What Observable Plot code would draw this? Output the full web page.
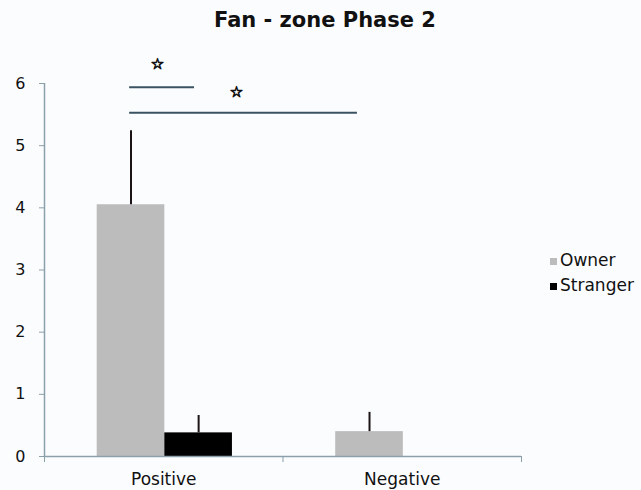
<!DOCTYPE html>
<html>
<head>
<meta charset="utf-8">
<script src="https://cdn.jsdelivr.net/npm/d3@7"></script>
<script src="https://cdn.jsdelivr.net/npm/@observablehq/plot@0.6"></script>
<style>
  html, body { margin: 0; padding: 0; background: #fbfcfe; }
  #wrap { position: relative; width: 641px; height: 490px; font-family: "DejaVu Sans", Verdana, sans-serif; color: #111; }
  #title { position: absolute; left: 0; top: 10px; width: 650px; text-align: center; font-weight: bold; font-size: 21px; line-height: 21px; }
  #legend { position: absolute; left: 550px; top: 250px; }
  .item { position: relative; height: 25px; font-size: 17px; line-height: 20px; white-space: nowrap; }
  .sw { display: inline-block; width: 7px; height: 7px; margin-right: 3px; vertical-align: 1px; }
  svg { position: absolute; left: 0; top: 0; }
</style>
</head>
<body>
<div id="wrap">
  <div id="chart"></div>
  <div id="title">Fan - zone Phase 2</div>
  <div id="legend"></div>
</div>
<script>
// ---- data ----
const categories = ["Positive", "Negative"];
const series = ["Owner", "Stranger"];
const ownerMeans = [4.05, 0.40];
const ownerErrors = [1.19, 0.31];
const strangerMeans = [0.38, 0];
const strangerErrors = [0.28, null];
const seriesColors = ["#bcbcbc", "#000000"];
const yTicks = [0, 1, 2, 3, 4, 5, 6];
// significance brackets (x in category units, y in data units)
const bracketStart = [0.357, 0.357];
const bracketEnd = [0.629, 1.312];
const bracketY = [5.94, 5.53];
const starX = [0.474, 0.805];
const starY = [6.31, 5.86];
const starText = ["☆", "☆"];

// ---- layout ----
const groupPad = 0.221;   // fraction of category band before first bar
const barW = 0.2835;      // bar width as fraction of category band
const axisColor = "#8aa0ab";

const rows = categories.flatMap((c, i) => series.map((s, j) => ({
  category: c, series: s, ci: i, si: j,
  mean: j === 0 ? ownerMeans[i] : strangerMeans[i],
  err: j === 0 ? ownerErrors[i] : strangerErrors[i]
})));
const brackets = bracketStart.map((x1, i) => ({x1, x2: bracketEnd[i], y: bracketY[i]}));
const stars = starX.map((x, i) => ({x, y: starY[i], t: starText[i]}));

const plot = Plot.plot({
  width: 641,
  height: 490,
  marginLeft: 44,
  marginRight: 120,
  marginTop: 83,
  marginBottom: 34,
  style: {background: "transparent", fontFamily: "DejaVu Sans, Verdana, sans-serif", color: "#111"},
  x: {domain: [0, categories.length], label: null},
  y: {domain: [0, 6], label: null},
  color: {domain: series, range: seriesColors},
  marks: [
    Plot.rect(rows, {
      x1: d => d.ci + groupPad + d.si * barW,
      x2: d => d.ci + groupPad + (d.si + 1) * barW,
      y1: 0, y2: "mean", fill: "series", inset: 0
    }),
    Plot.ruleX(rows.filter(d => d.err != null), {
      x: d => d.ci + groupPad + (d.si + 0.5) * barW,
      y1: "mean", y2: d => d.mean + d.err,
      stroke: "#1c1414", strokeWidth: 2
    }),
    Plot.ruleX([0], {y1: 0, y2: 6, stroke: axisColor, strokeWidth: 1.5}),
    Plot.ruleY([0], {x1: 0, x2: categories.length, stroke: axisColor, strokeWidth: 1.5}),
    Plot.axisY({ticks: yTicks, tickSize: 5, tickPadding: 14, fontSize: 16, tickFormat: d3.format("d"),
      stroke: axisColor, fill: "#111", label: null}),
    Plot.axisX({ticks: d3.range(categories.length + 1), tickSize: 6, tickFormat: () => "", stroke: axisColor, label: null}),
    Plot.axisX({ticks: categories.map((c, i) => i + 0.5), tickSize: 0, tickPadding: 16,
      tickFormat: v => categories[Math.floor(v)], fontSize: 17, fill: "#111", label: null}),
    Plot.ruleY(brackets, {x1: "x1", x2: "x2", y: "y", stroke: "#3a5360", strokeWidth: 2}),
    Plot.text(stars, {x: "x", y: "y", text: "t", fontSize: 15, fontWeight: "bold", fill: "#111",
      stroke: "#111", strokeWidth: 0.9})
  ]
});
document.getElementById("chart").appendChild(plot);

const legend = d3.select("#legend");
series.forEach((s, i) => {
  const item = legend.append("div").attr("class", "item");
  item.append("span").attr("class", "sw").style("background", seriesColors[i]);
  item.append("span").text(s);
});
</script>
</body>
</html>
